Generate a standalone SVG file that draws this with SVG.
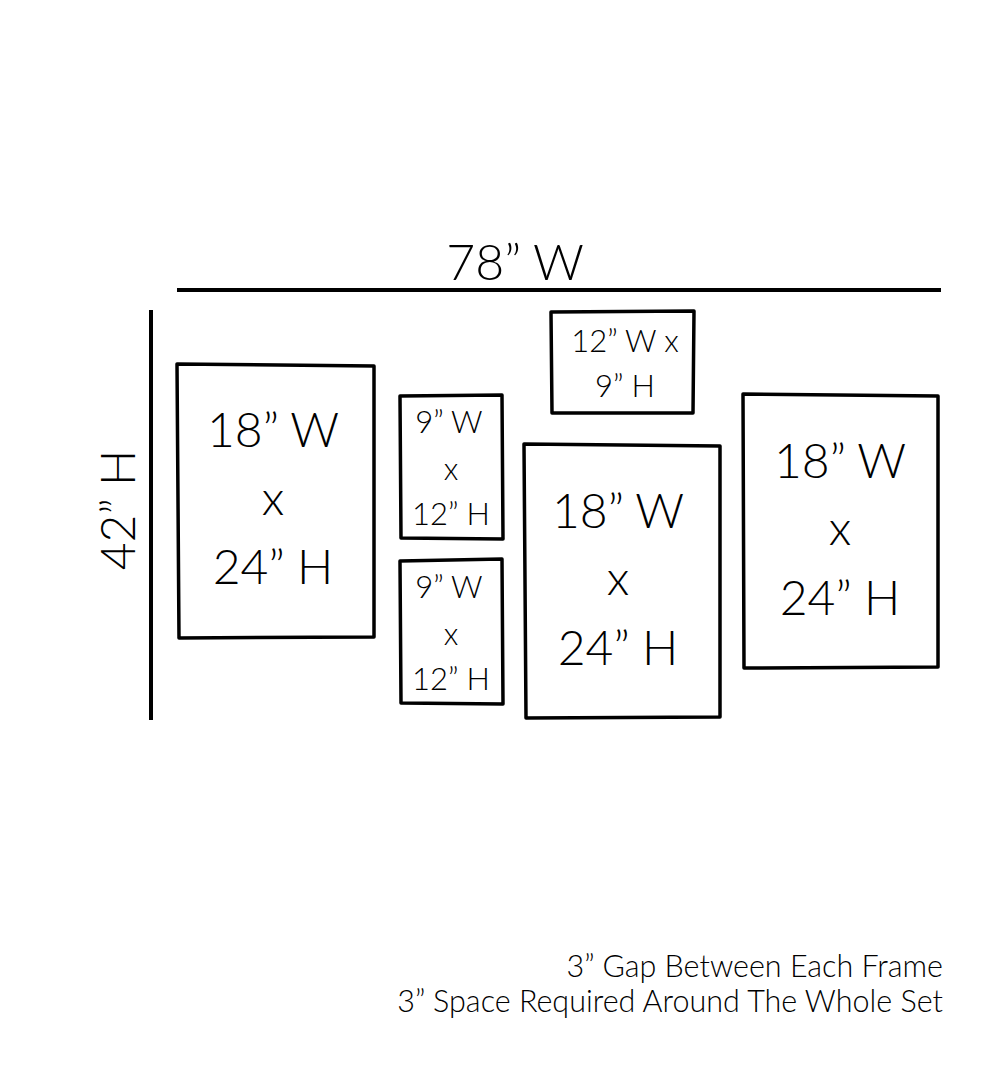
<svg xmlns="http://www.w3.org/2000/svg" width="1000" height="1081" viewBox="0 0 1000 1081">
<style>
.frame{fill:none;stroke:#000;stroke-width:3.5;stroke-linejoin:round}
.dim{stroke:#000;stroke-width:4;fill:none}
text{font-family:Lato,"Open Sans","Liberation Sans",sans-serif;font-weight:300;fill:#000;text-anchor:middle}
.big{font-size:48px}
.title{font-size:50px}
.small{font-size:31px}
.note{font-size:30.5px;text-anchor:end}
</style>
<rect width="1000" height="1081" fill="#fff"/>
<g id="connectors">
<line class="dim" x1="177" y1="290" x2="941" y2="290"/>
<line class="dim" x1="151" y1="310" x2="151" y2="720"/>
</g>
<g id="width-label"><text class="title" x="515" y="280">78” W</text></g>
<g id="height-label"><text class="big" transform="translate(135,510) rotate(-90)" x="0" y="0">42” H</text></g>
<g id="frame1">
<polygon class="frame" points="177,364 374,366 374,637 179,638"/>
<text class="big" x="273" y="447">18” W</text>
<text class="big" x="273" y="515">x</text>
<text class="big" x="273" y="584">24” H</text>
</g>
<g id="frame2">
<polygon class="frame" points="400,396 502,395 503,539 401,538"/>
<text class="small" x="449" y="433">9” W</text>
<text class="small" x="451" y="480">x</text>
<text class="small" x="451" y="525">12” H</text>
</g>
<g id="frame3">
<polygon class="frame" points="400,561 502,559 503,704 401,703"/>
<text class="small" x="449" y="598">9” W</text>
<text class="small" x="451" y="645">x</text>
<text class="small" x="451" y="690">12” H</text>
</g>
<g id="frame4">
<polygon class="frame" points="551,312 694,311 693,413 552,413"/>
<text class="small" x="625" y="352">12” W x</text>
<text class="small" x="625" y="397">9” H</text>
</g>
<g id="frame5">
<polygon class="frame" points="524,444 720,446 720,717 526,718"/>
<text class="big" x="618" y="528">18” W</text>
<text class="big" x="618" y="595">x</text>
<text class="big" x="618" y="665">24” H</text>
</g>
<g id="frame6">
<polygon class="frame" points="743,394 938,396 938,667 744,668"/>
<text class="big" x="840" y="478">18” W</text>
<text class="big" x="840" y="545">x</text>
<text class="big" x="840" y="615">24” H</text>
</g>
<g id="notes">
<text class="note" x="943" y="977">3” Gap Between Each Frame</text>
<text class="note" x="943" y="1012">3” Space Required Around The Whole Set</text>
</g>
</svg>
